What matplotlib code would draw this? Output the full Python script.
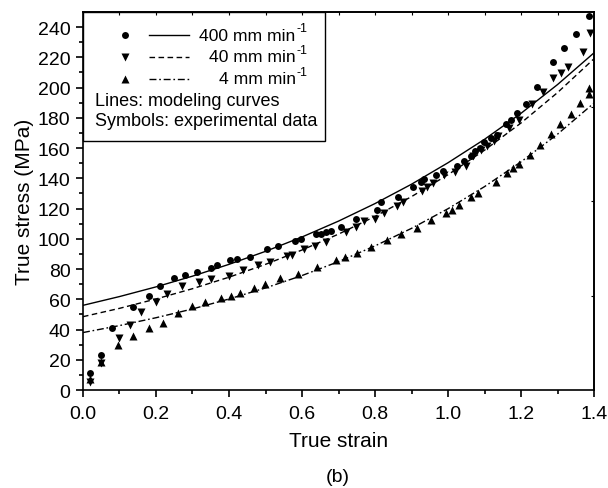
import matplotlib
matplotlib.use("Agg")
import matplotlib.pyplot as plt
from matplotlib.lines import Line2D
from matplotlib.patches import Rectangle

plt.rcParams['font.family'] = ['Liberation Sans', 'DejaVu Sans']
plt.rcParams['mathtext.fontset'] = 'custom'
plt.rcParams['mathtext.rm'] = 'Liberation Sans'
plt.rcParams['mathtext.it'] = 'Liberation Sans'

# ---- experimental data ----
strain_400 = [0.019, 0.048, 0.079, 0.138, 0.181, 0.21, 0.249, 0.279, 0.312, 0.351, 0.368, 0.404,
              0.421, 0.457, 0.505, 0.535, 0.581, 0.596, 0.638, 0.652, 0.666, 0.679, 0.706, 0.749,
              0.805, 0.816, 0.862, 0.905, 0.926, 0.935, 0.967, 0.985, 1.025, 1.045, 1.062, 1.073,
              1.088, 1.099, 1.117, 1.133, 1.159, 1.173, 1.189, 1.214, 1.245, 1.289, 1.317, 1.35, 1.385]
stress_400 = [11.2, 23.0, 40.7, 54.7, 62.0, 69.0, 73.8, 76.3, 78.0, 81.0, 82.8, 85.7,
              86.6, 88.2, 93.2, 95.0, 98.5, 99.6, 102.9, 103.1, 104.6, 105.3, 107.7, 113.1,
              119.1, 124.2, 127.9, 134.5, 137.3, 139.8, 142.4, 145.0, 148.3, 151.2, 154.7, 157.8,
              160.0, 164.0, 166.4, 168.8, 175.9, 178.9, 183.1, 189.0, 200.7, 217.1, 226.0, 235.2, 247.2]

strain_40 = [0.019, 0.048, 0.099, 0.129, 0.159, 0.2, 0.231, 0.27, 0.319, 0.35, 0.4, 0.439,
             0.479, 0.512, 0.558, 0.573, 0.606, 0.636, 0.666, 0.721, 0.749, 0.77, 0.799, 0.824,
             0.859, 0.877, 0.928, 0.943, 0.958, 0.99, 1.019, 1.049, 1.069, 1.09, 1.107, 1.126,
             1.137, 1.167, 1.195, 1.231, 1.26, 1.289, 1.31, 1.328, 1.369, 1.389]
stress_40 = [5.5, 17.8, 34.7, 43.0, 51.9, 58.0, 63.7, 69.0, 71.4, 73.6, 75.4, 79.6,
             82.6, 84.4, 88.8, 89.2, 93.0, 95.4, 98.2, 104.4, 107.5, 111.6, 113.4, 117.1,
             121.5, 124.2, 131.4, 134.1, 136.9, 142.4, 143.9, 147.9, 154.6, 158.9, 161.5, 164.4,
             167.7, 173.6, 178.3, 189.0, 197.4, 206.2, 209.5, 213.9, 223.7, 235.8]

strain_4 = [0.019, 0.048, 0.095, 0.138, 0.182, 0.219, 0.261, 0.3, 0.335, 0.379, 0.405, 0.43,
            0.468, 0.499, 0.54, 0.588, 0.642, 0.693, 0.719, 0.75, 0.789, 0.833, 0.872, 0.915,
            0.954, 0.994, 1.012, 1.03, 1.064, 1.082, 1.131, 1.161, 1.179, 1.195, 1.225, 1.252,
            1.281, 1.308, 1.336, 1.362, 1.386, 1.386]
stress_4 = [7.0, 18.5, 29.7, 35.4, 40.9, 44.6, 51.0, 55.4, 58.0, 60.9, 62.4, 64.4,
            67.7, 69.9, 74.3, 76.5, 81.3, 85.7, 87.9, 90.5, 94.3, 98.9, 103.3, 107.3,
            112.3, 117.1, 118.9, 122.6, 127.6, 130.3, 137.3, 143.4, 146.7, 149.6, 155.6, 162.2,
            169.4, 176.0, 182.6, 189.7, 196.0, 199.5]

# ---- modeling curves ----
model_strain = [0.0, 0.1, 0.2, 0.3, 0.4, 0.5, 0.6, 0.7, 0.8, 0.9, 1.0, 1.1, 1.2, 1.3, 1.4]
model_400 = [56.0, 61.8, 68.2, 75.3, 83.1, 91.7, 101.2, 111.7, 123.3, 136.1, 150.3, 165.8, 183.0, 202.0, 223.0]
model_40 = [48.5, 54.0, 60.2, 67.0, 74.6, 83.1, 92.6, 103.1, 114.8, 127.9, 142.4, 158.6, 176.6, 196.7, 219.1]
model_4 = [38.0, 42.6, 47.8, 53.6, 60.2, 67.5, 75.7, 84.9, 95.3, 106.9, 119.9, 134.5, 150.9, 169.2, 189.8]

legend_labels = ["400 mm min", "40 mm min", "4 mm min"]
legend_sup = "-1"
xticks = [0.0, 0.2, 0.4, 0.6, 0.8, 1.0, 1.2, 1.4]
yticks = [0, 20, 40, 60, 80, 100, 120, 140, 160, 180, 200, 220, 240]

fig = plt.figure(figsize=(6.08, 4.89), dpi=100)
ax = fig.add_axes([0.1365, 0.2004, 0.8405, 0.7730])

lw = 1.0
ax.plot(model_strain, model_400, color='black', lw=lw, ls='-')
ax.plot(model_strain, model_40, color='black', lw=lw, ls=(0, (4, 2.5)))
ax.plot(model_strain, model_4, color='black', lw=lw, ls=(0, (5, 2, 1.2, 2)))

ms = 5.0
ax.plot(strain_400, stress_400, 'o', color='black', ms=ms, mec='none')
ax.plot(strain_40, stress_40, 'v', color='black', ms=6.3, mec='none')
ax.plot(strain_4, stress_4, '^', color='black', ms=6.3, mec='none')

ax.set_xlim(0, 1.4)
ax.set_ylim(0, 250)
ax.set_xticks(xticks)
ax.set_xticklabels([f"{v:.1f}" for v in xticks])
ax.set_yticks(yticks)
ax.set_xticks([0.1, 0.3, 0.5, 0.7, 0.9, 1.1, 1.3], minor=True)
ax.set_yticks(list(range(10, 250, 20)), minor=True)
ax.tick_params(axis='x', which='major', direction='out', length=5, width=1.2,
               labelsize=14, pad=6, top=False)
ax.tick_params(axis='y', which='major', direction='out', length=5, width=1.2,
               labelsize=14, pad=4, right=False)
ax.tick_params(axis='both', which='minor', direction='out', length=3, width=1.2,
               top=False, right=False)
for s in ax.spines.values():
    s.set_linewidth(1.2)

# tiny inward ticks on top and right
sec_x = ax.secondary_xaxis('top')
sec_x.set_xticks([0.1 * i for i in range(1, 14)])
sec_x.tick_params(direction='in', length=2, width=0.8, labeltop=False)
sec_x.spines['top'].set_linewidth(1.2)
sec_y = ax.secondary_yaxis('right')
sec_y.set_yticks([62.5, 125, 187.5])
sec_y.tick_params(direction='in', length=2, width=0.8, labelright=False)
sec_y.spines['right'].set_linewidth(1.2)

ax.set_xlabel("True strain", fontsize=15, labelpad=6)
ax.set_ylabel("True stress (MPa)", fontsize=15, labelpad=3)
fig.text(0.556, 0.0245, "(b)", ha='center', va='center', fontsize=14)

# legend box
ax.add_patch(Rectangle((0, 0.6587), 0.4736, 0.3413, transform=ax.transAxes,
                       fill=False, edgecolor='black', lw=1.0, zorder=5, clip_on=False))
rows = [0.939, 0.881, 0.823]
styles = [('-', 'o', 5.0), ((0, (4, 2.5)), 'v', 6.0), ((0, (5, 2, 1.2, 2)), '^', 6.0)]
for yy, (lsty, mk, mks), lab in zip(rows, styles, legend_labels):
    ax.add_line(Line2D([0.082], [yy], marker=mk, color='black', ms=mks, mec='none',
                       transform=ax.transAxes, ls='none'))
    ax.add_line(Line2D([0.129, 0.207], [yy, yy], color='black', lw=lw, ls=lsty,
                       transform=ax.transAxes))
    ax.text(0.416, yy, lab, transform=ax.transAxes, ha='right', va='center', fontsize=12.6)
    ax.text(0.417, yy + 0.018, legend_sup, transform=ax.transAxes, ha='left',
            va='center', fontsize=9)
ax.text(0.0235, 0.767, "Lines: modeling curves", transform=ax.transAxes,
        ha='left', va='center', fontsize=13)
ax.text(0.0235, 0.712, "Symbols: experimental data", transform=ax.transAxes,
        ha='left', va='center', fontsize=13)

fig.savefig("out.png", dpi=100)
